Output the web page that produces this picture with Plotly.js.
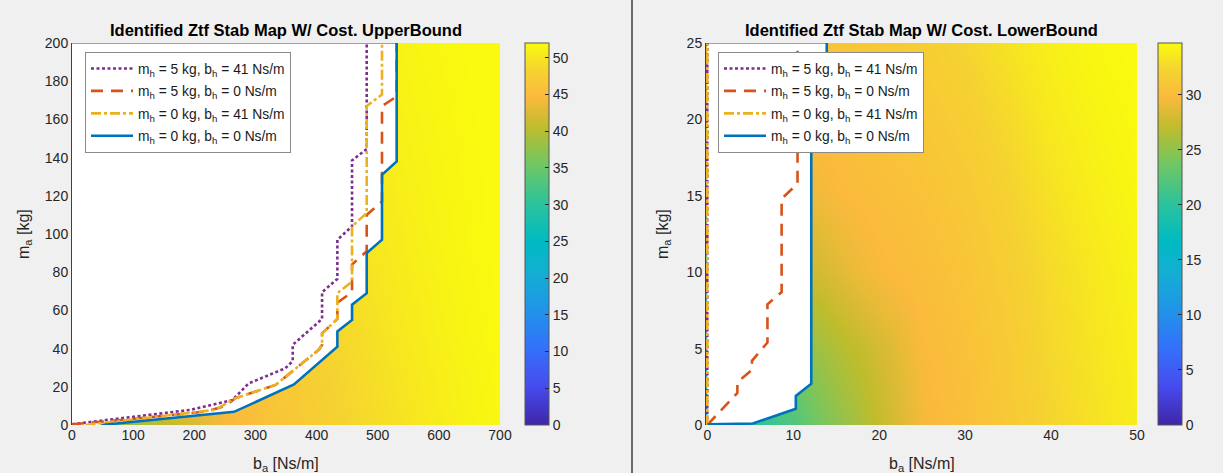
<!DOCTYPE html>
<html>
<head>
<meta charset="utf-8">
<script src="https://cdn.plot.ly/plotly-3.0.1.min.js"></script>
<style>
html,body{margin:0;padding:0;background:#f0f0f0;}
#chart{width:1223px;height:473px;}
</style>
</head>
<body>
<div id="chart"></div>
<script>
// ---------- Data: UpperBound (left) ----------
const seriesNames = [
  'm<sub>h</sub> = 5 kg, b<sub>h</sub> = 41 Ns/m',
  'm<sub>h</sub> = 5 kg, b<sub>h</sub> = 0 Ns/m',
  'm<sub>h</sub> = 0 kg, b<sub>h</sub> = 41 Ns/m',
  'm<sub>h</sub> = 0 kg, b<sub>h</sub> = 0 Ns/m'
];

const purpleX_U = [0, 55, 193, 262, 289, 349, 361, 361, 409, 409, 434, 434, 458, 458, 482, 482];
const purpleY_U = [0.4, 2.6, 7.9, 13, 21.8, 29.7, 33.5, 42, 55.5, 69.5, 76.5, 97, 104, 138.5, 144.5, 200];
const redX_U = [0, 110, 218, 251, 267, 333, 404, 409, 409, 434, 434, 458, 458, 482, 482, 507, 507, 531, 531];
const redY_U = [0.4, 3.5, 7, 10, 14, 21, 39.5, 42, 48, 55.5, 64, 69.5, 84, 91, 110, 117, 167, 172, 200];
const orangeX_U = [22, 100, 234, 267, 333, 404, 409, 409, 434, 434, 458, 458, 482, 482, 507, 507];
const orangeY_U = [0, 3, 7.9, 14, 21, 39.5, 42, 48, 55.5, 69, 75, 104, 111, 167, 173, 200];
const blueX_U = [48, 265, 363, 434, 434, 458, 458, 482, 482, 507, 507, 531, 531];
const blueY_U = [0, 6.9, 21.2, 41, 49, 55, 63, 69, 90, 97, 131, 138, 200];

const costX_U = [0, 50, 100, 150, 200, 250, 300, 350, 400, 450, 500, 550, 600, 650, 700];
const costY_U = [0, 25, 50, 100, 150, 200];
const costZ_U_row0   = [30, 36, 38.5, 40.5, 42.5, 44.3, 45.5, 46.5, 47.5, 48.4, 49.2, 49.9, 50.6, 51.2, 51.7];
const costZ_U_row25  = [32, 37, 39.5, 41.5, 43.3, 44.8, 45.8, 46.8, 47.8, 48.6, 49.4, 50.1, 50.8, 51.3, 51.8];
const costZ_U_row50  = [34, 38, 40.5, 42.5, 44, 45.3, 46.3, 47.2, 48.1, 48.9, 49.7, 50.4, 51, 51.5, 51.9];
const costZ_U_row100 = [36, 40, 42, 44, 45, 46, 47, 48, 48.8, 49.5, 50.2, 50.8, 51.3, 51.7, 52];
const costZ_U_row150 = [38, 41, 43, 45, 46, 47, 48, 48.8, 49.5, 50.1, 50.6, 51.1, 51.5, 51.8, 52];
const costZ_U_row200 = [40, 42, 44, 46, 47, 48, 48.8, 49.5, 50, 50.5, 51, 51.4, 51.7, 51.9, 52];

// ---------- Data: LowerBound (right) ----------
const purpleX_L = [0, 0];
const purpleY_L = [0, 25];
const redX_L = [0, 3.5, 3.5, 5.2, 5.2, 7.0, 7.0, 8.65, 8.65, 10.5, 10.5];
const redY_L = [0, 2.1, 2.8, 3.6, 4.2, 5.4, 7.9, 8.7, 14.8, 15.8, 25];
const orangeX_L = [0, 0];
const orangeY_L = [0, 25];
const blueX_L = [0, 5.3, 10.3, 10.3, 12.1, 12.1, 13.9, 13.9];
const blueY_L = [0.04, 0.1, 1.06, 1.9, 2.7, 20.5, 21.5, 25];

const costX_L = [0, 2.5, 5, 7.5, 10, 12.5, 15, 17.5, 20, 25, 30, 35, 40, 45, 50];
const costY_L = [0, 2.5, 5, 10, 15, 20, 25];
const costZ_L_row0   = [17, 18.5, 20, 21, 22, 23.5, 24.8, 26, 27.3, 29.5, 30.3, 31.2, 32.3, 33.1, 33.8];
const costZ_L_row2_5 = [18, 19.5, 20.8, 21.8, 23, 24.5, 25.6, 26.6, 27.6, 29.6, 30.4, 31.3, 32.4, 33.2, 33.9];
const costZ_L_row5   = [19.5, 21, 22, 23, 24.3, 25.5, 26.4, 27.2, 28, 29.8, 30.5, 31.4, 32.5, 33.3, 34];
const costZ_L_row10  = [22, 23, 24, 25, 26.5, 27.8, 28.5, 29.2, 29.7, 30.2, 30.8, 31.7, 32.7, 33.5, 34.2];
const costZ_L_row15  = [25, 26, 27, 28, 28.8, 29.3, 29.7, 30, 30.2, 30.6, 31.2, 32.1, 33.1, 33.9, 34.4];
const costZ_L_row20  = [27, 28, 28.8, 29.3, 29.7, 30, 30.3, 30.5, 30.7, 31.1, 31.7, 32.6, 33.6, 34.2, 34.6];
const costZ_L_row25  = [28.5, 29.2, 29.7, 30, 30.3, 30.6, 30.8, 31, 31.2, 31.6, 32.3, 33.2, 34, 34.5, 34.7];

const cMaxU = 52, cMaxL = 34.7;
const xRangeU = [0, 700], yRangeU = [0, 200];
const xRangeL = [-0.15, 50], yRangeL = [0, 25];

// ---------- Styling ----------
const parula = [
  [0.000, 'rgb(62,38,168)'],
  [0.100, 'rgb(71,75,238)'],
  [0.200, 'rgb(52,112,250)'],
  [0.300, 'rgb(32,148,233)'],
  [0.400, 'rgb(19,175,210)'],
  [0.480, 'rgb(0,186,195)'],
  [0.580, 'rgb(44,195,156)'],
  [0.680, 'rgb(111,199,100)'],
  [0.780, 'rgb(192,188,44)'],
  [0.860, 'rgb(251,186,61)'],
  [0.930, 'rgb(245,212,48)'],
  [1.000, 'rgb(249,251,14)']
];
const W = 1223, H = 473;
const px = v => v / W, py = v => (H - v) / H;
const FONT = 'Liberation Sans, Arial, Helvetica, sans-serif';
const TXT = '#262626';
const cols = ['#7E2F8E', '#D95319', '#EDB120', '#0072BD'];
const dashes = ['3px,2.5px', '12px,8px', '10px,3px,3px,3px', 'solid'];
const LW = 2.6;

function lineTrace(x, y, i, xa, ya, lg) {
  return {
    type: 'scatter', mode: 'lines', x: x, y: y, xaxis: xa, yaxis: ya,
    name: seriesNames[i], legend: lg, legendgroup: lg + 'g' + i,
    line: {color: cols[i], width: LW, dash: dashes[i]},
    hoverinfo: 'skip'
  };
}
function colorbar(xpx) {
  return {
    x: px(xpx), xanchor: 'left', xpad: 0,
    y: py(425), yanchor: 'bottom', ypad: 0,
    len: (425 - 43) / H, lenmode: 'fraction',
    thickness: 24, thicknessmode: 'pixels',
    outlinewidth: 1, outlinecolor: '#555',
    ticks: 'inside', ticklen: 4, tickcolor: TXT,
    tick0: 0, dtick: 5,
    tickfont: {family: FONT, size: 14, color: TXT}
  };
}

const traces = [
  {
    type: 'heatmap', x: costX_U, y: costY_U,
    z: [costZ_U_row0, costZ_U_row25, costZ_U_row50, costZ_U_row100, costZ_U_row150, costZ_U_row200],
    zmin: 0, zmax: cMaxU, colorscale: parula, zsmooth: 'best',
    xaxis: 'x', yaxis: 'y', colorbar: colorbar(525), hoverinfo: 'skip'
  },
  {
    type: 'scatter', mode: 'lines', x: blueX_U, y: blueY_U, xaxis: 'x', yaxis: 'y',
    fill: 'tozerox', fillcolor: '#ffffff', line: {width: 0, color: 'rgba(0,0,0,0)'},
    showlegend: false, hoverinfo: 'skip'
  },
  lineTrace(purpleX_U, purpleY_U, 0, 'x', 'y', 'legend'),
  lineTrace(redX_U, redY_U, 1, 'x', 'y', 'legend'),
  lineTrace(orangeX_U, orangeY_U, 2, 'x', 'y', 'legend'),
  lineTrace(blueX_U, blueY_U, 3, 'x', 'y', 'legend'),
  {
    type: 'heatmap', x: costX_L, y: costY_L,
    z: [costZ_L_row0, costZ_L_row2_5, costZ_L_row5, costZ_L_row10, costZ_L_row15, costZ_L_row20, costZ_L_row25],
    zmin: 0, zmax: cMaxL, colorscale: parula, zsmooth: 'best',
    xaxis: 'x2', yaxis: 'y2', colorbar: colorbar(1158), hoverinfo: 'skip'
  },
  {
    type: 'scatter', mode: 'lines', x: blueX_L, y: blueY_L, xaxis: 'x2', yaxis: 'y2',
    fill: 'tozerox', fillcolor: '#ffffff', line: {width: 0, color: 'rgba(0,0,0,0)'},
    showlegend: false, hoverinfo: 'skip'
  },
  lineTrace(purpleX_L, purpleY_L, 0, 'x2', 'y2', 'legend2'),
  lineTrace(redX_L, redY_L, 1, 'x2', 'y2', 'legend2'),
  lineTrace(orangeX_L, orangeY_L, 2, 'x2', 'y2', 'legend2'),
  lineTrace(blueX_L, blueY_L, 3, 'x2', 'y2', 'legend2')
];

function xAxis(domain, range, dtick, anchor) {
  return {
    domain: domain, range: range, anchor: anchor, tick0: 0, dtick: dtick,
    showgrid: false, zeroline: false, showline: false, ticks: '',
    tickfont: {family: FONT, size: 14, color: TXT}, fixedrange: true
  };
}
function yAxis(range, dtick, anchor) {
  return {
    domain: [py(425), py(43)], range: range, anchor: anchor, tick0: 0, dtick: dtick,
    showgrid: false, zeroline: false, showline: true, linecolor: '#404040', linewidth: 1,
    ticks: '', tickfont: {family: FONT, size: 14, color: TXT}, fixedrange: true
  };
}
function legendCfg(xpx) {
  return {
    x: px(xpx), xanchor: 'left', y: py(52), yanchor: 'top',
    bgcolor: '#ffffff', bordercolor: '#8a8a8a', borderwidth: 1,
    font: {family: FONT, size: 13.8, color: '#1a1a1a'},
    itemwidth: 42,
    traceorder: 'grouped', tracegroupgap: 1.5, itemclick: false, itemdoubleclick: false
  };
}
function ann(text, xpx, ypx, opts) {
  return Object.assign({
    text: text, xref: 'paper', yref: 'paper', x: px(xpx), y: py(ypx),
    xanchor: 'center', yanchor: 'middle', showarrow: false,
    font: {family: FONT, size: 16, color: TXT}
  }, opts || {});
}

const titleFont = {family: FONT, size: 16.5, color: '#000', weight: 'bold'};
const layout = {
  width: W, height: H,
  margin: {l: 0, r: 0, t: 0, b: 0},
  paper_bgcolor: '#f0f0f0', plot_bgcolor: '#ffffff',
  showlegend: true,
  xaxis: xAxis([px(72), px(500)], xRangeU, 100, 'y'),
  yaxis: yAxis(yRangeU, 20, 'x'),
  xaxis2: xAxis([px(706), px(1137)], xRangeL, 10, 'y2'),
  yaxis2: yAxis(yRangeL, 5, 'x2'),
  legend: legendCfg(85),
  legend2: legendCfg(718),
  shapes: [
    {type: 'line', xref: 'paper', yref: 'paper', x0: px(632), x1: px(632), y0: 0, y1: 1,
     line: {color: '#6a6a6a', width: 2}},
    {type: 'line', xref: 'x', yref: 'y', x0: xRangeU[0], x1: blueX_U[blueX_U.length - 1],
     y0: yRangeU[1], y1: yRangeU[1], line: {color: '#404040', width: 1}, layer: 'above'},
    {type: 'line', xref: 'x2', yref: 'y2', x0: xRangeL[0], x1: blueX_L[blueX_L.length - 1],
     y0: yRangeL[1], y1: yRangeL[1], line: {color: '#404040', width: 1}, layer: 'above'}
  ],
  annotations: [
    ann('Identified Ztf Stab Map W/ Cost. UpperBound', 286, 30, {font: titleFont}),
    ann('Identified Ztf Stab Map W/ Cost. LowerBound', 921.5, 30, {font: titleFont}),
    ann('b<sub>a</sub> [Ns/m]', 286, 464),
    ann('b<sub>a</sub> [Ns/m]', 921.5, 464),
    ann('m<sub>a</sub> [kg]', 24, 234, {textangle: -90}),
    ann('m<sub>a</sub> [kg]', 663, 234, {textangle: -90})
  ]
};

Plotly.newPlot('chart', traces, layout, {staticPlot: true, displayModeBar: false});
</script>
</body>
</html>
